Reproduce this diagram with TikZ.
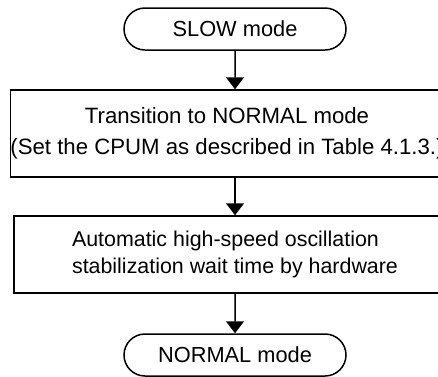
\documentclass[tikz,border=0pt]{standalone}
\usepackage{fontspec}
\setmainfont{Liberation Sans}
\usetikzlibrary{shapes.misc, arrows.meta}

\begin{document}
\begin{tikzpicture}[x=0.5pt, y=-0.5pt, line width=0.75pt,
    font=\fontsize{10.9}{14}\selectfont,
    terminal/.style={draw, rounded rectangle, minimum width=111pt, minimum height=21pt, inner sep=0pt},
    stepbox/.style={draw, rectangle, inner sep=0pt},
    flow/.style={-{Triangle[width=9pt, length=6pt]}}]
  \useasboundingbox (0,0) rectangle (438,376);
  \node[terminal] (slow) at (235,29) {SLOW mode};
  \node[stepbox, minimum width=213pt, minimum height=43.5pt, align=center,
    font=\fontsize{11.1}{15.5}\selectfont] (trans) at (227,133.5)
    {Transition to NORMAL mode\\(Set the CPUM as described in Table 4.1.3.)};
  \node[stepbox, minimum width=221pt, minimum height=38.5pt, align=left,
    font=\fontsize{10.7}{13.8}\selectfont] (wait) at (235,254.5)
    {Automatic high-speed oscillation\\stabilization wait time by hardware};
  \node[terminal] (normal) at (235,355) {NORMAL mode};
  \draw[flow] (slow) -- (slow |- trans.north);
  \draw[flow] (slow |- trans.south) -- (wait);
  \draw[flow] (wait) -- (normal);
\end{tikzpicture}
\end{document}
